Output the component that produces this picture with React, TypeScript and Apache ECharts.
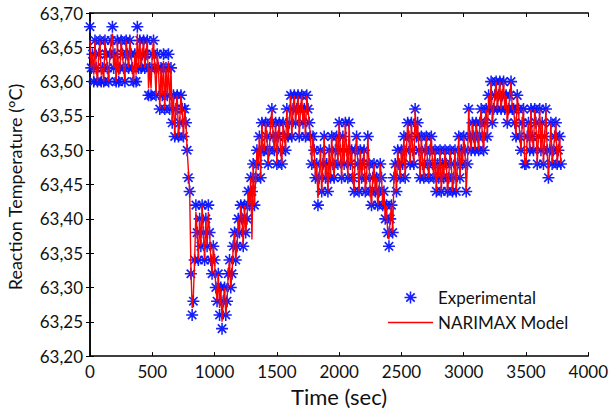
import React, { useEffect, useRef } from "react";
import * as echarts from "echarts";

// Sampling instants (s): one sample every 10 s, t = 0 … 3780
const SAMPLE_INTERVAL_SEC = 10;

// Experimental reaction temperature (°C) (10 values per 100 s)
const EXPERIMENTAL: number[] = [
  63.68, 63.62, 63.64, 63.60, 63.66, 63.62, 63.60, 63.64, 63.66, 63.60,
  63.62, 63.60, 63.66, 63.64, 63.62, 63.60, 63.64, 63.66, 63.68, 63.62,
  63.64, 63.60, 63.66, 63.60, 63.62, 63.66, 63.64, 63.62, 63.60, 63.66,
  63.64, 63.62, 63.66, 63.64, 63.62, 63.60, 63.64, 63.60, 63.68, 63.62,
  63.66, 63.62, 63.64, 63.66, 63.62, 63.64, 63.66, 63.58, 63.62, 63.58,
  63.64, 63.66, 63.62, 63.58, 63.64, 63.62, 63.56, 63.62, 63.58, 63.64,
  63.56, 63.62, 63.58, 63.64, 63.56, 63.62, 63.54, 63.58, 63.52, 63.56,
  63.58, 63.52, 63.54, 63.58, 63.56, 63.52, 63.56, 63.54, 63.50, 63.46,
  63.44, 63.32, 63.26, 63.28, 63.34, 63.42, 63.38, 63.34, 63.40, 63.36,
  63.42, 63.38, 63.34, 63.40, 63.36, 63.42, 63.38, 63.34, 63.32, 63.36,
  63.34, 63.30, 63.28, 63.32, 63.26, 63.30, 63.24, 63.28, 63.30, 63.26,
  63.28, 63.32, 63.34, 63.30, 63.32, 63.36, 63.38, 63.34, 63.36, 63.40,
  63.38, 63.42, 63.40, 63.36, 63.42, 63.38, 63.40, 63.44, 63.42, 63.46,
  63.44, 63.48, 63.42, 63.46, 63.50, 63.48, 63.52, 63.46, 63.54, 63.50,
  63.50, 63.54, 63.52, 63.48, 63.50, 63.54, 63.56, 63.52, 63.50, 63.54,
  63.48, 63.52, 63.54, 63.50, 63.48, 63.54, 63.52, 63.50, 63.56, 63.52,
  63.54, 63.58, 63.52, 63.56, 63.58, 63.54, 63.56, 63.58, 63.52, 63.56,
  63.58, 63.54, 63.56, 63.52, 63.58, 63.56, 63.54, 63.52, 63.48, 63.52,
  63.50, 63.46, 63.48, 63.42, 63.46, 63.50, 63.44, 63.48, 63.52, 63.46,
  63.48, 63.44, 63.50, 63.46, 63.52, 63.48, 63.46, 63.50, 63.52, 63.48,
  63.54, 63.50, 63.46, 63.52, 63.48, 63.54, 63.50, 63.46, 63.54, 63.48,
  63.50, 63.46, 63.44, 63.50, 63.52, 63.48, 63.44, 63.50, 63.46, 63.48,
  63.50, 63.44, 63.46, 63.52, 63.48, 63.44, 63.42, 63.46, 63.48, 63.44,
  63.46, 63.42, 63.44, 63.48, 63.46, 63.42, 63.44, 63.40, 63.42, 63.38,
  63.36, 63.40, 63.42, 63.38, 63.46, 63.48, 63.44, 63.50, 63.48, 63.46,
  63.50, 63.48, 63.52, 63.46, 63.50, 63.54, 63.52, 63.48, 63.54, 63.50,
  63.48, 63.56, 63.52, 63.54, 63.50, 63.46, 63.52, 63.48, 63.46, 63.50,
  63.52, 63.48, 63.46, 63.50, 63.52, 63.48, 63.46, 63.50, 63.44, 63.48,
  63.46, 63.50, 63.44, 63.48, 63.46, 63.50, 63.48, 63.44, 63.46, 63.50,
  63.48, 63.44, 63.46, 63.50, 63.44, 63.48, 63.52, 63.46, 63.50, 63.48,
  63.52, 63.50, 63.44, 63.48, 63.56, 63.52, 63.50, 63.54, 63.52, 63.50,
  63.54, 63.52, 63.50, 63.54, 63.56, 63.52, 63.50, 63.54, 63.56, 63.52,
  63.58, 63.56, 63.60, 63.54, 63.56, 63.58, 63.60, 63.56, 63.58, 63.60,
  63.56, 63.58, 63.60, 63.56, 63.58, 63.54, 63.56, 63.58, 63.60, 63.56,
  63.56, 63.54, 63.52, 63.58, 63.56, 63.52, 63.50, 63.54, 63.56, 63.48,
  63.48, 63.52, 63.54, 63.50, 63.56, 63.52, 63.50, 63.56, 63.54, 63.48,
  63.52, 63.56, 63.50, 63.54, 63.48, 63.52, 63.56, 63.50, 63.46, 63.50,
  63.54, 63.48, 63.50, 63.52, 63.54, 63.48, 63.50, 63.52, 63.48,
];

// NARIMAX model output (°C) (10 values per 100 s)
const MODEL: number[] = [
  63.66, 63.62, 63.64, 63.61, 63.66, 63.62, 63.60, 63.64, 63.66, 63.61,
  63.62, 63.60, 63.66, 63.64, 63.62, 63.60, 63.64, 63.66, 63.67, 63.62,
  63.64, 63.60, 63.66, 63.61, 63.62, 63.66, 63.64, 63.62, 63.60, 63.66,
  63.64, 63.62, 63.66, 63.64, 63.62, 63.60, 63.64, 63.61, 63.67, 63.62,
  63.66, 63.62, 63.64, 63.66, 63.62, 63.64, 63.66, 63.59, 63.62, 63.59,
  63.64, 63.66, 63.62, 63.58, 63.64, 63.62, 63.56, 63.62, 63.58, 63.63,
  63.56, 63.62, 63.58, 63.63, 63.56, 63.62, 63.54, 63.58, 63.52, 63.56,
  63.58, 63.52, 63.54, 63.58, 63.56, 63.52, 63.56, 63.54, 63.50, 63.47,
  63.44, 63.33, 63.27, 63.29, 63.34, 63.41, 63.38, 63.34, 63.40, 63.36,
  63.42, 63.38, 63.34, 63.40, 63.36, 63.41, 63.38, 63.34, 63.32, 63.36,
  63.34, 63.30, 63.28, 63.32, 63.27, 63.30, 63.25, 63.28, 63.30, 63.26,
  63.28, 63.32, 63.34, 63.30, 63.32, 63.36, 63.38, 63.34, 63.36, 63.40,
  63.38, 63.42, 63.40, 63.36, 63.42, 63.38, 63.40, 63.44, 63.42, 63.46,
  63.37, 63.48, 63.42, 63.46, 63.50, 63.48, 63.52, 63.46, 63.54, 63.50,
  63.50, 63.54, 63.52, 63.48, 63.50, 63.54, 63.56, 63.52, 63.50, 63.54,
  63.48, 63.52, 63.54, 63.50, 63.48, 63.54, 63.52, 63.50, 63.56, 63.52,
  63.54, 63.58, 63.52, 63.56, 63.58, 63.54, 63.56, 63.58, 63.52, 63.56,
  63.58, 63.54, 63.56, 63.52, 63.58, 63.56, 63.54, 63.52, 63.48, 63.52,
  63.50, 63.46, 63.48, 63.43, 63.46, 63.50, 63.44, 63.48, 63.52, 63.46,
  63.48, 63.44, 63.50, 63.46, 63.52, 63.48, 63.46, 63.50, 63.52, 63.48,
  63.54, 63.50, 63.46, 63.52, 63.48, 63.54, 63.50, 63.46, 63.54, 63.48,
  63.50, 63.46, 63.44, 63.50, 63.52, 63.48, 63.44, 63.50, 63.46, 63.48,
  63.50, 63.44, 63.46, 63.52, 63.48, 63.44, 63.42, 63.46, 63.48, 63.44,
  63.46, 63.42, 63.44, 63.48, 63.46, 63.42, 63.44, 63.40, 63.42, 63.38,
  63.37, 63.40, 63.42, 63.38, 63.46, 63.48, 63.44, 63.50, 63.48, 63.46,
  63.50, 63.48, 63.52, 63.46, 63.50, 63.54, 63.52, 63.48, 63.54, 63.50,
  63.48, 63.56, 63.52, 63.54, 63.50, 63.46, 63.52, 63.48, 63.46, 63.50,
  63.52, 63.48, 63.46, 63.50, 63.52, 63.48, 63.46, 63.50, 63.44, 63.48,
  63.46, 63.50, 63.44, 63.48, 63.46, 63.50, 63.48, 63.44, 63.46, 63.50,
  63.48, 63.44, 63.46, 63.50, 63.44, 63.48, 63.52, 63.46, 63.50, 63.48,
  63.52, 63.50, 63.44, 63.48, 63.56, 63.52, 63.50, 63.54, 63.52, 63.50,
  63.54, 63.52, 63.50, 63.54, 63.56, 63.52, 63.50, 63.54, 63.56, 63.52,
  63.58, 63.56, 63.60, 63.54, 63.56, 63.58, 63.60, 63.56, 63.58, 63.60,
  63.56, 63.58, 63.60, 63.56, 63.58, 63.54, 63.56, 63.58, 63.60, 63.56,
  63.56, 63.54, 63.52, 63.58, 63.56, 63.52, 63.50, 63.54, 63.56, 63.48,
  63.48, 63.52, 63.54, 63.50, 63.56, 63.52, 63.50, 63.56, 63.54, 63.48,
  63.52, 63.56, 63.50, 63.54, 63.48, 63.52, 63.56, 63.50, 63.46, 63.50,
  63.54, 63.48, 63.50, 63.52, 63.54, 63.48, 63.50, 63.52, 63.48,
];

// Axis ticks
const X_MIN = 0;
const X_MAX = 4000;
const X_STEP = 500;
const Y_MIN = 63.2;
const Y_MAX = 63.7;
const Y_STEP = 0.05;

const SERIES_NAMES = ["Experimental", "NARIMAX Model"];
const X_TITLE = "Time (sec)";
const Y_TITLE = "Reaction Temperature (°C)";

const STAR =
  "path://M0,4.35L10,4.35L10,5.65L0,5.65Z M4.35,0L5.65,0L5.65,10L4.35,10Z M1.0,2.0L2.0,1.0L9.0,8.0L8.0,9.0Z M8.0,1.0L9.0,2.0L2.0,9.0L1.0,8.0Z";
const LINE_ICON = "path://M0,0L45,0L45,1.4L0,1.4Z";

const FONT = "Lato";
const TEXT_COLOR = "#111";

export default function App() {
  const ref = useRef<HTMLDivElement>(null);

  useEffect(() => {
    document.body.style.margin = "0";
    if (!ref.current) return;
    const chart = echarts.init(ref.current, undefined, { renderer: "svg" });

    const expData = EXPERIMENTAL.map((v, i) => [i * SAMPLE_INTERVAL_SEC, v]);
    const modelData = MODEL.map((v, i) => [i * SAMPLE_INTERVAL_SEC, v]);

    const axisLine = { show: true, lineStyle: { color: "#000", width: 1.5 } };
    const tick = { show: true, inside: true, length: 4, lineStyle: { color: "#000", width: 1 } };
    const yFmt = (v: number) => v.toFixed(2).replace(".", ",");
    const xFmt = (v: number) => String(Math.round(v));

    chart.setOption({
      animation: false,
      backgroundColor: "#fff",
      grid: { left: 90, right: 21, top: 13, bottom: 51, containLabel: false },
      graphic: [
        {
          type: "text",
          x: 15,
          y: 187,
          rotation: Math.PI / 2,
          style: {
            text: Y_TITLE,
            fontFamily: FONT,
            fontSize: 18,
            fill: TEXT_COLOR,
            align: "center",
            verticalAlign: "middle",
          },
        },
      ],
      legend: {
        data: [
          { name: SERIES_NAMES[0], icon: STAR },
          { name: SERIES_NAMES[1], icon: LINE_ICON },
        ],
        orient: "vertical",
        left: 383,
        top: 284,
        itemWidth: 45,
        itemHeight: 12,
        itemGap: 8,
        textStyle: { fontFamily: FONT, fontSize: 17, color: TEXT_COLOR },
      },
      xAxis: [
        {
          type: "value",
          position: "bottom",
          min: X_MIN,
          max: X_MAX,
          interval: X_STEP,
          axisLine,
          axisTick: tick,
          splitLine: { show: false },
          axisLabel: { fontFamily: FONT, fontSize: 17, color: TEXT_COLOR, margin: 7, formatter: xFmt },
          name: X_TITLE,
          nameLocation: "middle",
          nameGap: 25,
          nameTextStyle: { fontFamily: FONT, fontSize: 22, color: TEXT_COLOR },
        },
        {
          type: "value",
          position: "top",
          min: X_MIN,
          max: X_MAX,
          interval: X_STEP,
          axisLine,
          axisTick: tick,
          splitLine: { show: false },
          axisLabel: { show: false },
        },
      ],
      yAxis: [
        {
          type: "value",
          position: "left",
          min: Y_MIN,
          max: Y_MAX,
          interval: Y_STEP,
          axisLine,
          axisTick: tick,
          splitLine: { show: false },
          axisLabel: { fontFamily: FONT, fontSize: 17, color: TEXT_COLOR, margin: 7, formatter: yFmt },
        },
        {
          type: "value",
          position: "right",
          min: Y_MIN,
          max: Y_MAX,
          interval: Y_STEP,
          axisLine,
          axisTick: tick,
          splitLine: { show: false },
          axisLabel: { show: false },
        },
      ],
      series: [
        {
          name: SERIES_NAMES[0],
          type: "scatter",
          data: expData,
          symbol: STAR,
          symbolSize: 12,
          itemStyle: { color: "#0a14ff", opacity: 0.95 },
          z: 2,
        },
        {
          name: SERIES_NAMES[1],
          type: "line",
          data: modelData,
          showSymbol: false,
          symbol: "none",
          lineStyle: { color: "#ff0000", width: 1.4 },
          itemStyle: { color: "#ff0000" },
          z: 3,
        },
      ],
    });

    return () => chart.dispose();
  }, []);

  return <div ref={ref} style={{ width: 611, height: 412 }} />;
}
